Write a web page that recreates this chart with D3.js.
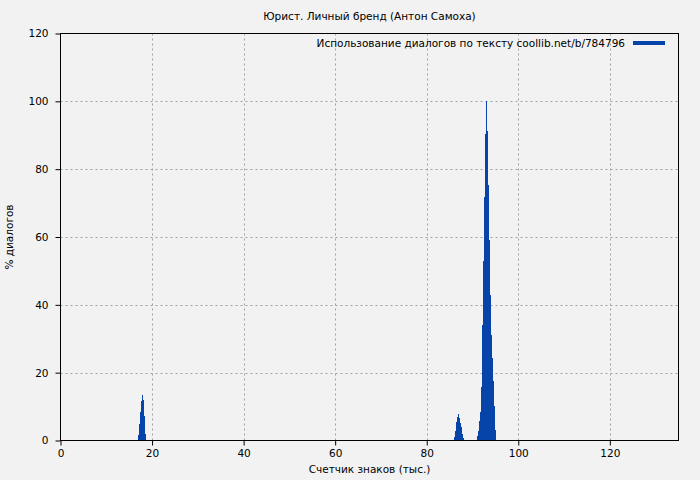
<!DOCTYPE html>
<html>
<head>
<meta charset="utf-8">
<script src="https://cdn.jsdelivr.net/npm/d3@7"></script>
<style>
  body { margin: 0; background: #f2f2f2; }
  svg { display: block; font-family: "DejaVu Sans", sans-serif; }
</style>
</head>
<body>
<div id="the_chart"></div>
<script>
// character count, thousands (bin centres)
var charCount = [
    17.05, 17.27, 17.49, 17.70, 17.92, 18.14, 18.36, 18.58,
    86.12, 86.34, 86.56, 86.78, 87.00, 87.21, 87.43, 87.65, 87.87, 88.09,
    91.15, 91.37, 91.58, 91.80, 92.02, 92.24, 92.46, 92.68, 92.90, 93.11,
    93.33, 93.55, 93.77, 93.99, 94.21, 94.43, 94.64, 94.86, 95.08
];
// % of dialogues
var dialogPct = [
    1.7, 4.8, 8.3, 11.6, 13.4, 11.8, 7.1, 2.0,
    1.0, 2.7, 5.4, 6.9, 7.7, 6.7, 5.3, 3.9, 2.0, 0.6,
    1.2, 2.9, 5.7, 8.4, 15.7, 34.2, 52.8, 71.7, 90.4, 100,
    91.4, 75.2, 59.0, 42.8, 31.2, 24.3, 17.4, 10.3, 3.2
];
var binWidth = 0.2186;
var xTicks = [0, 20, 40, 60, 80, 100, 120];
var yTicks = [0, 20, 40, 60, 80, 100, 120];
var title = "Юрист. Личный бренд (Антон Самоха)";
var seriesName = "Использование диалогов по тексту coollib.net/b/784796";

var w = 700, h = 480;
var pLeft = 60.5, pRight = 678.5, pTop = 33.5, pBottom = 440.5;
var barColor = "#0644aa";
var fs = 10.5;

var xscale = d3.scaleLinear().domain([0, 135]).range([pLeft, pRight]);
var yscale = d3.scaleLinear().domain([0, 120]).range([pBottom, pTop]);

var svg = d3.select("#the_chart").append("svg")
    .attr("width", w)
    .attr("height", h);

svg.append("rect").attr("width", w).attr("height", h).attr("fill", "#f2f2f2");

// grid
svg.append("g").selectAll("line")
    .data(xTicks.filter(function(d) { return d > 0; }))
    .enter().append("line")
    .attr("x1", function(d) { return Math.round(xscale(d)) + 0.5; })
    .attr("x2", function(d) { return Math.round(xscale(d)) + 0.5; })
    .attr("y1", pTop).attr("y2", pBottom)
    .attr("stroke", "#a0a0a0").attr("stroke-dasharray", "2,3");
svg.append("g").selectAll("line")
    .data(yTicks.filter(function(d) { return d > 0 && d < 120; }))
    .enter().append("line")
    .attr("y1", function(d) { return Math.round(yscale(d)) + 0.5; })
    .attr("y2", function(d) { return Math.round(yscale(d)) + 0.5; })
    .attr("x1", pLeft).attr("x2", pRight)
    .attr("stroke", "#a0a0a0").attr("stroke-dasharray", "2,3");

// bars
svg.append("g").selectAll("rect")
    .data(charCount)
    .enter().append("rect")
    .attr("x", function(d) { return xscale(d - binWidth / 2); })
    .attr("width", function(d) { return xscale(d + binWidth / 2) - xscale(d - binWidth / 2); })
    .attr("y", function(d, i) { return yscale(dialogPct[i]); })
    .attr("height", function(d, i) { return yscale(0) - yscale(dialogPct[i]); })
    .attr("fill", barColor)
    .attr("shape-rendering", "crispEdges");

// frame
svg.append("rect")
    .attr("x", pLeft).attr("y", pTop)
    .attr("width", pRight - pLeft).attr("height", pBottom - pTop)
    .attr("fill", "none").attr("stroke", "#000");

// axes
var xaxis = d3.axisBottom(xscale).tickValues(xTicks).tickSize(5).tickSizeOuter(0).tickPadding(4);
var gx = svg.append("g")
    .attr("transform", "translate(0," + pBottom + ")")
    .call(xaxis);
var yaxis = d3.axisLeft(yscale).tickValues(yTicks).tickSize(5).tickSizeOuter(0).tickPadding(7);
var gy = svg.append("g")
    .attr("transform", "translate(" + pLeft + ",0)")
    .call(yaxis);
[gx, gy].forEach(function(g) {
    g.select(".domain").remove();
    g.selectAll("text").attr("font-size", fs).attr("font-family", "DejaVu Sans").attr("fill", "#000");
    g.selectAll("line").attr("stroke", "#000");
});

// texts
svg.append("text")
    .attr("x", (pLeft + pRight) / 2).attr("y", 20)
    .attr("text-anchor", "middle").attr("font-size", fs)
    .text(title);
svg.append("text")
    .attr("x", (pLeft + pRight) / 2).attr("y", 473)
    .attr("text-anchor", "middle").attr("font-size", fs)
    .text("Счетчик знаков (тыс.)");
svg.append("text")
    .attr("transform", "translate(13," + (pTop + pBottom) / 2 + ") rotate(-90)")
    .attr("text-anchor", "middle").attr("font-size", fs)
    .text("% диалогов");

// legend
svg.append("text")
    .attr("x", 625).attr("y", 47)
    .attr("text-anchor", "end").attr("font-size", fs)
    .text(seriesName);
svg.append("rect")
    .attr("x", 633).attr("y", 41)
    .attr("width", 32).attr("height", 4)
    .attr("fill", barColor);
</script>
</body>
</html>
